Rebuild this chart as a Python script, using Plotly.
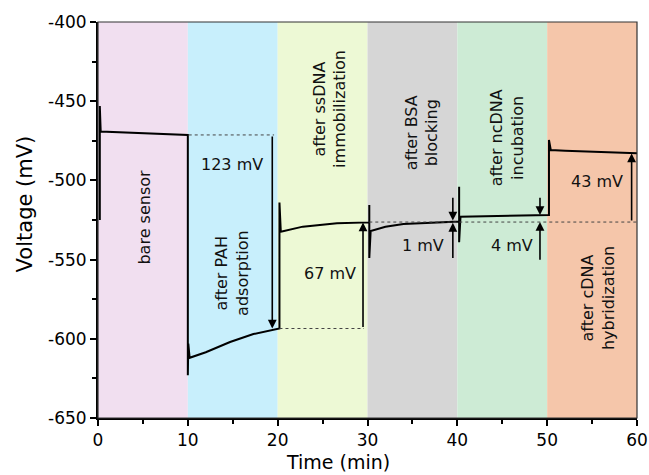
import plotly.graph_objects as go

# ---- data ----
time_min = [0.2, 0.2, 0.3, 3, 6, 10,
            10, 10.05, 10.2, 12, 14.7, 17.3, 20.2,
            20.2, 20.35, 22.8, 26.6, 30.2,
            30.2, 30.2, 30.35, 32, 34, 37, 39.2, 40.2,
            40.2, 40.2, 40.35, 45, 50.2,
            50.2, 50.4, 52, 55, 60]
voltage_mv = [-525, -453, -469.2, -469.7, -470.3, -471.3,
              -623, -603, -612, -608.5, -602, -597, -593.5,
              -514, -532.4, -529.2, -527.1, -526.5,
              -515.5, -549, -532, -529.3, -527.5, -526.6, -526.2, -526,
              -504, -539, -523, -522.5, -521.8,
              -474.5, -480.8, -481.3, -482, -482.9]

stage_starts = [0, 10, 20, 30, 40, 50]
stage_ends = [10, 20, 30, 40, 50, 60]
stage_colors = ["#F1DFF0", "#C8EFFC", "#EDF9D5", "#D6D6D6", "#CDEBD5", "#F5C6AA"]
stage_labels = ["bare sensor", "after PAH<br>adsorption", "after ssDNA<br>immobilization",
                "after BSA<br>blocking", "after ncDNA<br>incubation", "after cDNA<br>hybridization"]
stage_label_x = [5.2, 14.9, 25.8, 36.0, 45.5, 55.6]
stage_label_y = [-523, -558.5, -455, -470, -473, -574]

# reference (dashed) levels: level, x0, x1
ref_levels = [-471.3, -593.5, -526.3]
ref_x0 = [10.1, 20.2, 30.2]
ref_x1 = [19.6, 29.6, 60]

# arrows: x, tail y, head y
arrow_x = [19.4, 29.5, 39.5, 39.5, 49.2, 49.2, 59.4]
arrow_tail = [-471.3, -593.5, -510, -550, -510, -551, -526.3]
arrow_head = [-593.5, -526.5, -525.3, -526.8, -521.8, -526.3, -483]

delta_labels = ["123 mV", "67 mV", "1 mV", "4 mV", "43 mV"]
delta_x = [14.9, 25.8, 36.2, 46.1, 55.6]
delta_y = [-490, -559, -541, -541, -501]

x_ticks = [0, 10, 20, 30, 40, 50, 60]
x_ticktext = ["0", "10", "20", "30", "40", "50", "60"]
y_ticks = [-650, -600, -550, -500, -450, -400]
y_ticktext = ["-650", "-600", "-550", "-500", "-450", "-400"]

x_title = "Time (min)"
y_title = "Voltage (mV)"

FONT = "DejaVu Sans, Verdana, sans-serif"

fig = go.Figure()
fig.add_trace(go.Scatter(x=time_min, y=voltage_mv, mode="lines",
                         line=dict(color="black", width=2), showlegend=False,
                         hoverinfo="skip"))

shapes = []
for x0, x1, c in zip(stage_starts, stage_ends, stage_colors):
    shapes.append(dict(type="rect", xref="x", yref="y", x0=x0, x1=x1, y0=-650, y1=-400,
                       fillcolor=c, line=dict(width=0), layer="below"))
for lv, x0, x1 in zip(ref_levels, ref_x0, ref_x1):
    shapes.append(dict(type="line", xref="x", yref="y", x0=x0, x1=x1, y0=lv, y1=lv,
                       line=dict(color="#444", width=1, dash="3px,3px")))
shapes.append(dict(type="rect", xref="paper", yref="paper", x0=0, x1=1, y0=0, y1=1,
                   line=dict(color="#333", width=1.2), fillcolor="rgba(0,0,0,0)"))

annotations = []
for lab, x, y in zip(stage_labels, stage_label_x, stage_label_y):
    annotations.append(dict(x=x, y=y, xref="x", yref="y", text=lab, showarrow=False,
                            textangle=-90, font=dict(family=FONT, size=16, color="#111")))
for lab, x, y in zip(delta_labels, delta_x, delta_y):
    annotations.append(dict(x=x, y=y, xref="x", yref="y", text=lab, showarrow=False,
                            font=dict(family=FONT, size=16, color="#111")))
for x, t, h in zip(arrow_x, arrow_tail, arrow_head):
    annotations.append(dict(x=x, y=h, ax=x, ay=t, xref="x", yref="y", axref="x", ayref="y",
                            text="", showarrow=True, arrowhead=2, arrowsize=1.1,
                            arrowwidth=1.6, arrowcolor="black", standoff=0, startstandoff=0))
# axis titles (placed slightly off-centre as in the reference)
annotations.append(dict(x=0.445, y=-0.111, xref="paper", yref="paper", text=x_title,
                        showarrow=False, xanchor="center", yanchor="middle",
                        font=dict(family=FONT, size=19, color="black")))
annotations.append(dict(x=-0.135, y=0.54, xref="paper", yref="paper", text=y_title,
                        showarrow=False, textangle=-90, xanchor="center", yanchor="middle",
                        font=dict(family=FONT, size=21, color="black")))

fig.update_layout(
    width=649, height=475,
    margin=dict(l=98, r=12, t=22, b=57, autoexpand=False),
    paper_bgcolor="white", plot_bgcolor="white",
    font=dict(family=FONT, color="black"),
    shapes=shapes, annotations=annotations,
    xaxis=dict(range=[0, 60], tickvals=x_ticks, ticktext=x_ticktext, automargin=False,
               ticks="outside", ticklen=6, tickwidth=2, tickcolor="black",
               minor=dict(dtick=5, ticks="outside", ticklen=4, tickwidth=1.5, tickcolor="black"),
               showline=True, linewidth=2, linecolor="black", showgrid=False, zeroline=False,
               tickfont=dict(size=17)),
    yaxis=dict(range=[-650, -400], tickvals=y_ticks, ticktext=y_ticktext, automargin=False,
               ticks="outside", ticklen=6, tickwidth=2, tickcolor="black",
               minor=dict(dtick=25, ticks="outside", ticklen=4, tickwidth=1.5, tickcolor="black"),
               showline=True, linewidth=2, linecolor="black", showgrid=False, zeroline=False,
               tickfont=dict(size=17)),
)

fig.write_html("out.html", config={"displayModeBar": False},
               post_script="document.body.style.margin='0px';")
